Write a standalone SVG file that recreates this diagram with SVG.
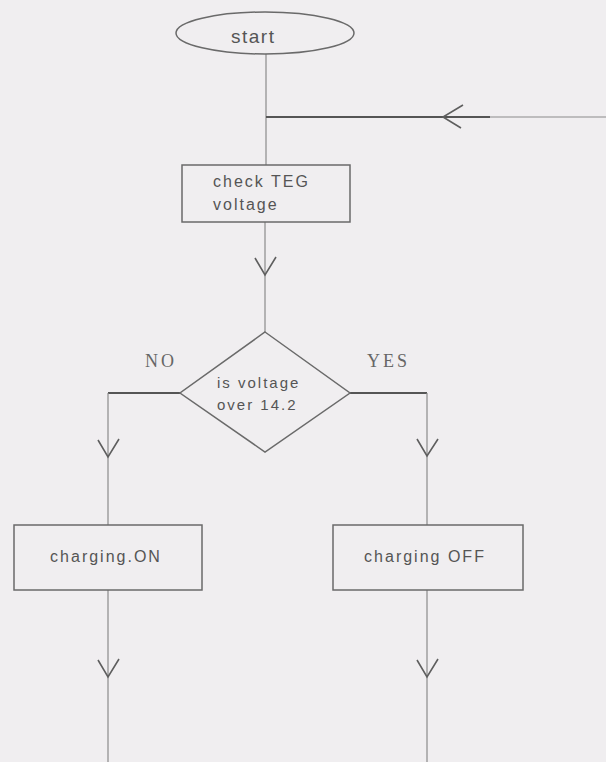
<svg xmlns="http://www.w3.org/2000/svg" width="606" height="762" viewBox="0 0 606 762">
<style>
.bg{fill:#f0eef0}
.box{fill:none;stroke:#6a6a6a;stroke-width:1.5}
.ln{fill:none;stroke:#8a8a8a;stroke-width:1.2}
.hl{fill:none;stroke:#555;stroke-width:1.8}
.ah{fill:none;stroke:#5e5e5e;stroke-width:1.6}
.t{font-family:"Liberation Sans",Arial,sans-serif;font-size:16px;fill:#555;letter-spacing:2px}
.lbl{font-family:"Liberation Serif","Times New Roman",serif;font-size:18px;fill:#666;letter-spacing:3px}
</style>
<rect class="bg" x="0" y="0" width="606" height="762"/>
<g id="connectors">
  <path class="ln" d="M266,54 V165"/>
  <path class="hl" d="M266,117 H490"/>
  <path class="ln" d="M490,117 H606"/>
  <path class="ah" d="M463,105 L443,117 L461,128"/>
  <path class="ln" d="M265,222 V332"/>
  <path class="ah" d="M255,258 L265,275 L276,257"/>
  <path class="hl" d="M180,393 H108"/>
  <path class="ln" d="M108,393 V525"/>
  <path class="ah" d="M98,440 L108,457 L119,439"/>
  <path class="hl" d="M350,393 H427"/>
  <path class="ln" d="M427,393 V525"/>
  <path class="ah" d="M417,439 L427,456 L438,439"/>
  <path class="ln" d="M108,590 V762"/>
  <path class="ah" d="M98,660 L108,677 L119,659"/>
  <path class="ln" d="M427,590 V762"/>
  <path class="ah" d="M417,660 L427,677 L438,659"/>
  <text class="lbl" x="145" y="367">NO</text>
  <text class="lbl" x="367" y="367">YES</text>
</g>
<g id="start">
  <ellipse class="box" cx="265" cy="33" rx="89" ry="21"/>
  <text class="t" x="231" y="43" style="font-size:19px;letter-spacing:1.5px">start</text>
</g>
<g id="check">
  <rect class="box" x="182" y="165" width="168" height="57"/>
  <text class="t" x="213" y="187">check TEG</text>
  <text class="t" x="213" y="210">voltage</text>
</g>
<g id="decision">
  <polygon class="box" points="265,332 350,393 265,452 180,393"/>
  <text class="t" x="217" y="388" style="font-size:15px">is voltage</text>
  <text class="t" x="217" y="410" style="font-size:15px">over 14.2</text>
</g>
<g id="chargingOn">
  <rect class="box" x="14" y="525" width="188" height="65"/>
  <text class="t" x="106" y="562" text-anchor="middle">charging.ON</text>
</g>
<g id="chargingOff">
  <rect class="box" x="333" y="525" width="190" height="65"/>
  <text class="t" x="425" y="562" text-anchor="middle">charging OFF</text>
</g>
</svg>
